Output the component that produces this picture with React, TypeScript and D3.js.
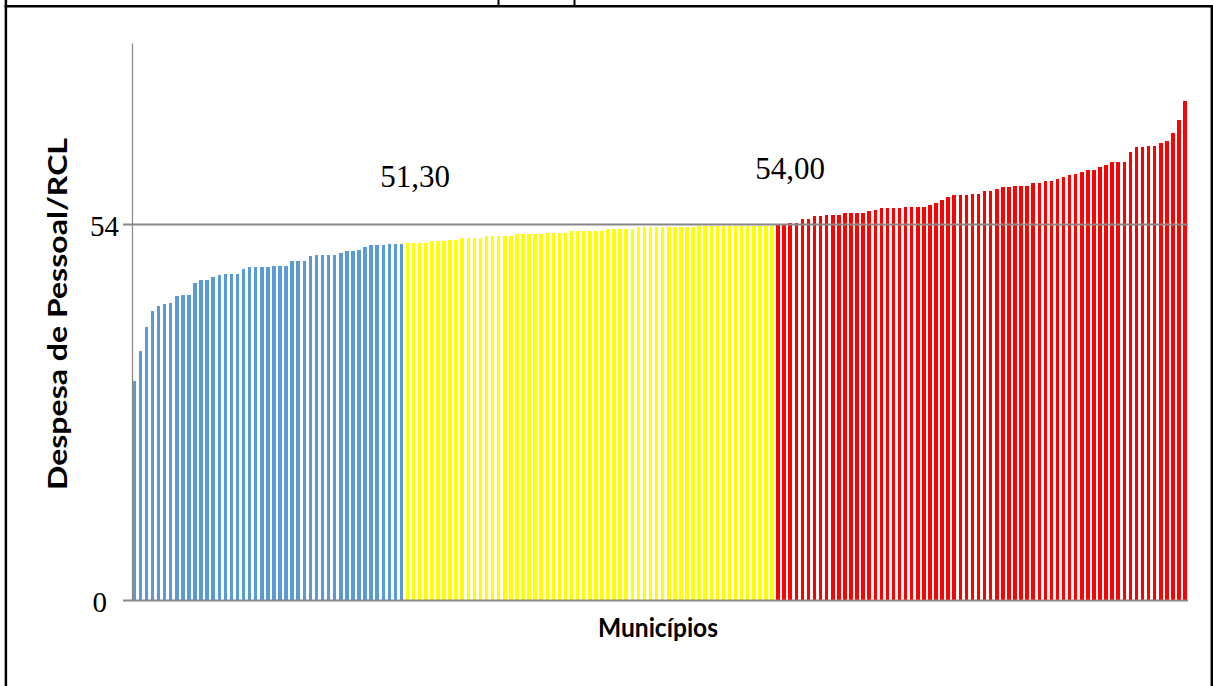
import React from "react";
import * as d3 from "d3";

// Municipalities sorted ascending (Despesa de Pessoal / RCL, %)
const blueValues = [
  31.5, 35.8, 39.3, 41.6, 42.3, 42.6, 42.7, 43.7, 43.9, 43.9,
  45.6, 46.0, 46.0, 46.5, 46.7, 46.9, 46.9, 46.9, 47.6, 47.9,
  47.9, 47.9, 47.9, 48.0, 48.0, 48.0, 48.8, 48.8, 48.8, 49.5,
  49.6, 49.6, 49.6, 49.6, 49.9, 50.2, 50.2, 50.3, 50.8, 51.1,
  51.1, 51.1, 51.2, 51.2, 51.2,
];
const yellowValues = [
  51.3, 51.3, 51.3, 51.3, 51.6, 51.6, 51.6, 51.8, 51.8, 52.1,
  52.1, 52.1, 52.1, 52.4, 52.4, 52.4, 52.4, 52.4, 52.6, 52.6,
  52.6, 52.6, 52.6, 52.8, 52.8, 52.8, 52.8, 53.0, 53.0, 53.0,
  53.0, 53.0, 53.0, 53.3, 53.3, 53.3, 53.3, 53.3, 53.6, 53.6,
  53.6, 53.6, 53.6, 53.6, 53.6, 53.6, 53.6, 53.6, 53.8, 53.8,
  53.8, 53.8, 53.8, 53.8, 53.8, 53.8, 53.8, 53.8, 53.8, 53.8,
  53.8,
];
const redValues = [
  54.1, 54.1, 54.2, 54.2, 54.8, 54.8, 55.2, 55.2, 55.4, 55.4,
  55.4, 55.7, 55.7, 55.7, 55.7, 55.9, 56.1, 56.4, 56.4, 56.4,
  56.4, 56.5, 56.5, 56.5, 56.5, 56.8, 57.1, 57.5, 57.9, 58.2,
  58.2, 58.2, 58.4, 58.4, 58.8, 58.8, 59.1, 59.4, 59.4, 59.6,
  59.6, 59.6, 59.9, 59.9, 60.3, 60.3, 60.6, 60.8, 61.1, 61.2,
  61.5, 61.9, 61.9, 62.3, 62.6, 63.0, 63.0, 63.0, 64.4, 65.1,
  65.1, 65.3, 65.3, 65.7, 66.0, 67.1, 69.0, 71.7,
];
const groupColors = ["#5B9BD5", "#FFFF00", "#FF0000"];
const yTicks = [0, 54];
const thresholdLabels = ["51,30", "54,00"];
const yAxisTitle = "Despesa de Pessoal/RCL";
const xAxisTitle = "Municípios";

export default function App() {
  const W = 1213;
  const H = 686;
  const groups = [blueValues, yellowValues, redValues];
  const bars = groups.flatMap((vals, g) => vals.map((v) => ({ v, g })));
  const groupStart = [0, blueValues.length, blueValues.length + yellowValues.length];

  const x = d3
    .scaleBand<number>()
    .domain(d3.range(bars.length))
    .range([131.2, 1188.1])
    .paddingInner(0.42)
    .paddingOuter(0.21);
  const y = d3.scaleLinear().domain([0, 80]).range([600.5, 43.5]);

  const axisX = 132.5;
  const tickLeft = 123;
  const plotRight = 1188;
  const grey = "#888888";

  const labelPos = [
    { x: 415, y: 187 },
    { x: 790, y: 179 },
  ];

  return (
    <svg
      width={W}
      height={H}
      style={{ position: "absolute", left: 0, top: 0, background: "#fff" }}
    >
      <rect x={0} y={0} width={W} height={H} fill="#fff" />
      {/* outer frame */}
      <line x1={5.9} y1={0} x2={5.9} y2={H} stroke="#000" strokeWidth={2.5} />
      <line x1={1211.8} y1={6} x2={1211.8} y2={H} stroke="#000" strokeWidth={2.5} />
      <line x1={4.6} y1={6.2} x2={1213} y2={6.2} stroke="#000" strokeWidth={2.5} />
      <line x1={498.5} y1={0} x2={498.5} y2={6} stroke="#000" strokeWidth={2} />
      <line x1={574.5} y1={0} x2={574.5} y2={6} stroke="#000" strokeWidth={2} />

      {/* bars */}
      <g shapeRendering="crispEdges">
        {bars.map((b, i) => (
          <rect
            key={i}
            x={x(i)}
            y={y(b.v)}
            width={x.bandwidth()}
            height={y(0) - y(b.v)}
            fill={groupColors[b.g]}
          />
        ))}
      </g>

      {/* y axis */}
      <line x1={axisX} y1={y(80)} x2={axisX} y2={y(0)} stroke={grey} strokeWidth={1.2} />
      {yTicks.map((t) => (
        <g key={t}>
          <line
            x1={tickLeft}
            x2={plotRight}
            y1={y(t)}
            y2={y(t)}
            stroke={grey}
            strokeWidth={2}
          />
          <text
            x={t === 0 ? 107 : 119}
            y={y(t) + 11}
            textAnchor="end"
            fontFamily="'Liberation Serif', 'Times New Roman', serif"
            fontSize={29}
            fill="#000"
          >
            {t}
          </text>
        </g>
      ))}

      {/* threshold labels */}
      {thresholdLabels.map((s, i) => (
        <text
          key={s}
          x={labelPos[i].x}
          y={labelPos[i].y}
          textAnchor="middle"
          fontFamily="'Liberation Serif', 'Times New Roman', serif"
          fontSize={31}
          fill="#000"
        >
          {s}
        </text>
      ))}

      {/* axis titles */}
      <text
        transform={`translate(67, 314) rotate(-90)`}
        textAnchor="middle"
        fontFamily="Lato, 'Open Sans', sans-serif"
        fontWeight="bold"
        fontSize={27}
        textLength={352}
        lengthAdjust="spacingAndGlyphs"
        fill="#000"
      >
        {yAxisTitle}
      </text>
      <text
        x={658}
        y={637}
        textAnchor="middle"
        fontFamily="Lato, 'Open Sans', sans-serif"
        fontWeight="bold"
        fontSize={27}
        textLength={120}
        lengthAdjust="spacingAndGlyphs"
        fill="#000"
      >
        {xAxisTitle}
      </text>
    </svg>
  );
}
